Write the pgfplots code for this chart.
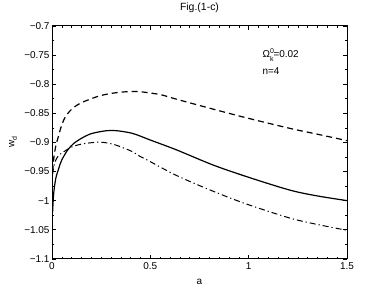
\documentclass[border=0pt]{standalone}
\usepackage{pgfplots}
\pgfplotsset{compat=1.18}
\usepackage{fontspec}
\setmainfont{Liberation Sans}
\begin{document}
\begin{tikzpicture}
\begin{axis}[
  scale only axis,
  width=295bp, height=233bp,
  xmin=0, xmax=1.5, ymin=-1.1, ymax=-0.7,
  xtick={0,0.5,1,1.5}, xticklabels={0,0.5,1,1.5},
  ytick={-1.1,-1.05,-1,-0.95,-0.9,-0.85,-0.8,-0.75,-0.7},
  yticklabels={−1.1,−1.05,−1,−0.95,−0.9,−0.85,−0.8,−0.75,−0.7},
  minor x tick num=9, minor y tick num=1,
  tick align=inside,
  major tick length=4bp, minor tick length=2bp,
  every tick/.style={black, line width=0.5pt},
  axis line style={line width=0.8pt},
  tick label style={font=\fontsize{10}{11}\selectfont},
  yticklabel style={xshift=1bp},
  label style={font=\fontsize{10}{11}\selectfont},
  title style={font=\fontsize{10.5}{11}\selectfont, at={(0.5,1)}, anchor=base, yshift=9bp},
  title={Fig.(1-c)},
  xlabel={a},
  xlabel style={at={(0.5,0)}, anchor=base, yshift=-26bp},
  ylabel={w\raisebox{-0.5ex}{\scriptsize d}},
  ylabel style={at={(0,0.5)}, anchor=center, yshift=39bp},
]
\addplot[black, line width=1.2pt, smooth] coordinates {
(0.003,-1.02)(0.008,-0.99)(0.015,-0.97)(0.022,-0.958)(0.035,-0.944)(0.05,-0.93)(0.08,-0.913)(0.11,-0.902)(0.15,-0.893)(0.2,-0.885)(0.276,-0.880)(0.33,-0.880)(0.403,-0.884)(0.447,-0.889)(0.5,-0.896)(0.634,-0.913)(0.82,-0.939)(1.0,-0.960)(1.21,-0.982)(1.35,-0.992)(1.5,-1.0)
};
\addplot[black, line width=1.2pt, smooth, dash pattern=on 6bp off 4bp] coordinates {
(0.003,-0.95)(0.01,-0.925)(0.02,-0.905)(0.03,-0.893)(0.045,-0.875)(0.065,-0.858)(0.1,-0.843)(0.149,-0.832)(0.234,-0.821)(0.3,-0.816)(0.38,-0.813)(0.447,-0.813)(0.55,-0.818)(0.634,-0.826)(0.82,-0.843)(0.99,-0.858)(1.21,-0.876)(1.35,-0.886)(1.5,-0.897)
};
\addplot[black, line width=1.0pt, smooth, dash pattern=on 6bp off 3bp on 1.2bp off 3bp] coordinates {
(0.003,-0.955)(0.01,-0.94)(0.02,-0.93)(0.035,-0.922)(0.065,-0.915)(0.1,-0.908)(0.149,-0.903)(0.217,-0.900)(0.26,-0.900)(0.319,-0.904)(0.403,-0.915)(0.447,-0.924)(0.488,-0.931)(0.634,-0.957)(0.82,-0.984)(0.99,-1.006)(1.21,-1.030)(1.35,-1.041)(1.5,-1.051)
};
\node[anchor=west, inner sep=0pt, font=\fontsize{10}{11}\selectfont] at (axis cs:1.07,-0.75) {Ω\rlap{\raisebox{0.8ex}{\scriptsize 0}}\raisebox{-0.6ex}{\scriptsize k}=0.02};
\node[anchor=west, inner sep=0pt, font=\fontsize{10}{11}\selectfont] at (axis cs:1.07,-0.778) {n=4};
\end{axis}
\path ([shift={(-52bp,-33bp)}]current axis.south west) rectangle ([shift={(35bp,21bp)}]current axis.north east);
\end{tikzpicture}
\end{document}
